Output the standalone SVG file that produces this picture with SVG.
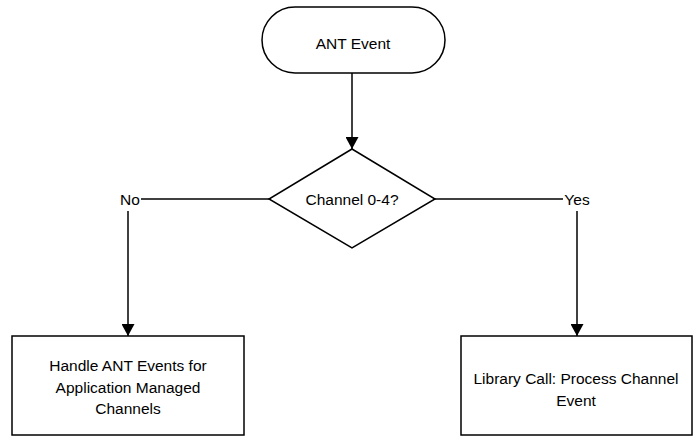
<svg xmlns="http://www.w3.org/2000/svg" width="695" height="437" viewBox="0 0 695 437">
<style>
.shape{fill:#fff;stroke:#000;stroke-width:1.5}
.conn{fill:none;stroke:#000;stroke-width:1.5}
text{font-family:"Liberation Sans",Arial,sans-serif;font-size:15.5px;fill:#000;text-anchor:middle}
</style>
<defs>
<marker id="arr" viewBox="0 0 12 13" refX="12" refY="6.5" markerWidth="12" markerHeight="13" markerUnits="userSpaceOnUse" orient="auto">
<path d="M0,0 L12,6.5 L0,13 Z" fill="#000"/>
</marker>
</defs>
<rect width="695" height="437" fill="#fff"/>
<g id="connectors">
<path class="conn" d="M352,73 V149" marker-end="url(#arr)"/>
<path class="conn" d="M269,199 H141"/>
<path class="conn" d="M128,211 V336" marker-end="url(#arr)"/>
<text x="130" y="204.5">No</text>
<path class="conn" d="M435,199 H563"/>
<path class="conn" d="M577,211 V336" marker-end="url(#arr)"/>
<text x="577" y="204.5">Yes</text>
</g>
<g id="start">
<rect class="shape" x="262" y="7" width="183" height="66" rx="33" ry="33"/>
<text x="353" y="48.5">ANT Event</text>
</g>
<g id="decision">
<polygon class="shape" points="352,149 435,199 352,248 269,199"/>
<text x="352" y="204.5">Channel 0-4?</text>
</g>
<g id="handle">
<rect class="shape" x="12" y="336" width="232" height="99"/>
<text x="128" y="370.5">Handle ANT Events for</text>
<text x="128" y="392.5">Application Managed</text>
<text x="128" y="413.5">Channels</text>
</g>
<g id="library">
<rect class="shape" x="461" y="336" width="231" height="99"/>
<text x="576" y="383.5">Library Call: Process Channel</text>
<text x="576" y="405.5">Event</text>
</g>
</svg>
